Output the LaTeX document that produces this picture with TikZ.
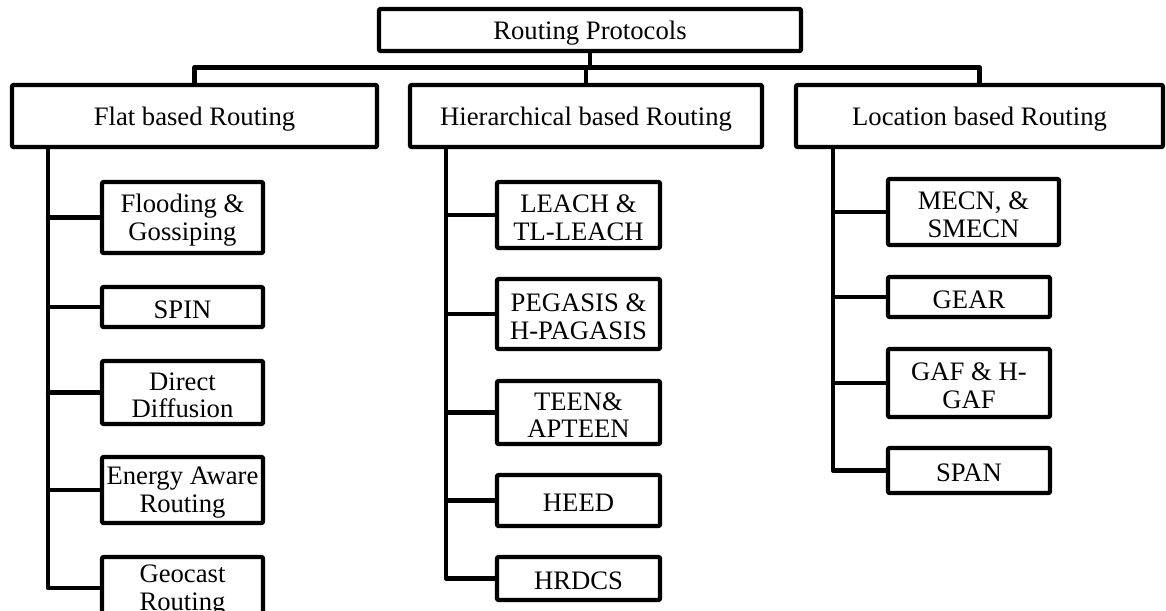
\documentclass[tikz,border=0pt]{standalone}
\usepackage{fontspec}
\setmainfont{Liberation Serif}
\begin{document}
\begin{tikzpicture}[x=0.75pt, y=-0.75pt,
  line width=3.3pt, line join=round, line cap=round,
  box/.style={draw, rectangle, rounded corners=1pt, inner sep=0pt, fill=white,
    label={[boxtext]center:#1}},
  boxtext/.style={inner sep=0pt, align=center, yshift=-2pt,
    font=\fontsize{20}{20.5}\selectfont},
  link/.style={draw, line width=3.3pt}]
\useasboundingbox (0,0) rectangle (1166,610);
\fill[white] (0,0) rectangle (1166,610);
\clip (0,0) rectangle (1166,610);

% root and the three families
\node[box={Routing Protocols}, minimum width=422*0.75pt, minimum height=42*0.75pt] (root) at (590,30) {};
\node[box={Flat based Routing}, minimum width=365*0.75pt, minimum height=62*0.75pt] (flat) at (194.5,116) {};
\node[box={Hierarchical based Routing}, minimum width=352*0.75pt, minimum height=62*0.75pt] (hier) at (586,116) {};
\node[box={Location based Routing}, minimum width=367*0.75pt, minimum height=62*0.75pt] (loc) at (979.5,116) {};

\coordinate (bar) at (0,67.5);
\draw[link] (flat.north) -- (flat.north |- bar) -- (loc.north |- bar) -- (loc.north);
\draw[link] (root.south) -- (root.south |- bar);
\draw[link] (hier.north |- bar) -- (hier.north);

% flat based protocols
\node[box={Flooding \&\\Gossiping}, minimum width=161*0.75pt, minimum height=71*0.75pt] (flood) at (182.5,217.5) {};
\node[box={SPIN}, minimum width=161*0.75pt, minimum height=40*0.75pt] (spin) at (182.5,307) {};
\node[box={Direct\\Diffusion}, minimum width=161*0.75pt, minimum height=63*0.75pt] (dd) at (182.5,392.5) {};
\node[box={Energy Aware\\Routing}, minimum width=161*0.75pt, minimum height=66*0.75pt] (ear) at (182.5,490) {};
\node[box={Geocast\\Routing}, minimum width=161*0.75pt, minimum height=62*0.75pt] (geo) at (182.5,588) {};

\coordinate (ft) at (48,0);
\draw[link] (flat.south -| ft) |- (geo.west);
\foreach \n in {flood,spin,dd,ear} \draw[link] (ft |- \n.west) -- (\n.west);

% hierarchical protocols
\node[box={LEACH \&\\TL-LEACH}, minimum width=163*0.75pt, minimum height=66*0.75pt] (leach) at (578.5,215) {};
\node[box={PEGASIS \&\\H-PAGASIS}, minimum width=163*0.75pt, minimum height=70*0.75pt] (peg) at (578.5,314) {};
\node[box={TEEN\&\\APTEEN}, minimum width=163*0.75pt, minimum height=63*0.75pt] (teen) at (578.5,412.5) {};
\node[box={HEED}, minimum width=163*0.75pt, minimum height=51*0.75pt] (heed) at (578.5,500.5) {};
\node[box={HRDCS}, minimum width=163*0.75pt, minimum height=43*0.75pt] (hrd) at (578.5,578.5) {};

\coordinate (ht) at (446,0);
\draw[link] (hier.south -| ht) |- (hrd.west);
\foreach \n in {leach,peg,teen,heed} \draw[link] (ht |- \n.west) -- (\n.west);

% location based protocols
\node[box={MECN, \&\\SMECN}, minimum width=171*0.75pt, minimum height=66*0.75pt] (mecn) at (973.5,212) {};
\node[box={GEAR}, minimum width=162*0.75pt, minimum height=40*0.75pt] (gear) at (969,297) {};
\node[box={GAF \& H-\\GAF}, minimum width=162*0.75pt, minimum height=68*0.75pt] (gaf) at (969,383) {};
\node[box={SPAN}, minimum width=162*0.75pt, minimum height=45*0.75pt] (span) at (969,470.5) {};

\coordinate (lt) at (833,0);
\draw[link] (loc.south -| lt) |- (span.west);
\foreach \n in {mecn,gear,gaf} \draw[link] (lt |- \n.west) -- (\n.west);
\end{tikzpicture}
\end{document}
